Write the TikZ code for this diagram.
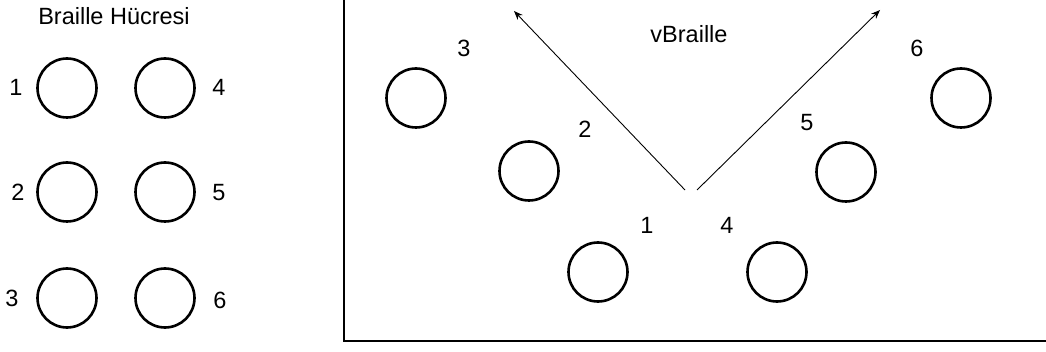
\documentclass[tikz,border=0pt]{standalone}
\usepackage{fontspec}
\setmainfont{Liberation Sans}
\usetikzlibrary{arrows.meta}
\begin{document}
\begin{tikzpicture}[x=1pt,y=-1pt,
  dot/.style={circle,draw,line width=2.6pt,minimum size=59pt,inner sep=0pt},
  lbl/.style={inner sep=0pt,font=\fontsize{23.5}{28}\selectfont},
  frame/.style={line width=2.8pt},
  vec/.style={line width=0.9pt,-{Stealth[length=9pt,width=7pt]}}]
\useasboundingbox (0,0) rectangle (1046,352);
% left: Braille cell
\node[lbl] (title) at (114,16) {Braille Hücresi};
\node[dot] (c1) at (67,88) {};
\node[dot] (c4) at (165,88) {};
\node[dot] (c2) at (67,192) {};
\node[dot] (c5) at (165,192) {};
\node[dot] (c3) at (67,298) {};
\node[dot] (c6) at (165,298) {};
\node[lbl] (n1) at (16,87) {1};
\node[lbl] (n4) at (219,87) {4};
\node[lbl] (n2) at (18,192) {2};
\node[lbl] (n5) at (219,193) {5};
\node[lbl] (n3) at (12,298) {3};
\node[lbl] (n6) at (220,300) {6};
% right: vBraille
\draw[frame] (344,-2) -- (344,341) -- (1048,341);
\node[lbl] (vt) at (689,34) {vBraille};
\node[dot] (v3) at (416,98) {};
\node[dot] (v2) at (529,171) {};
\node[dot] (v1) at (598,272) {};
\node[dot] (v4) at (777,272) {};
\node[dot] (v5) at (846,172) {};
\node[dot] (v6) at (961,98) {};
\node[lbl] (m3) at (464,48) {3};
\node[lbl] (m2) at (585,129) {2};
\node[lbl] (m1) at (647,225) {1};
\node[lbl] (m4) at (727,225) {4};
\node[lbl] (m5) at (807,123) {5};
\node[lbl] (m6) at (917,48) {6};
\coordinate (sL) at (685,190);
\coordinate (sR) at (697,190);
\coordinate (tL) at (514,11);
\coordinate (tR) at (880,10);
\draw[vec] (sL) -- (tL);
\draw[vec] (sR) -- (tR);
\end{tikzpicture}
\end{document}
